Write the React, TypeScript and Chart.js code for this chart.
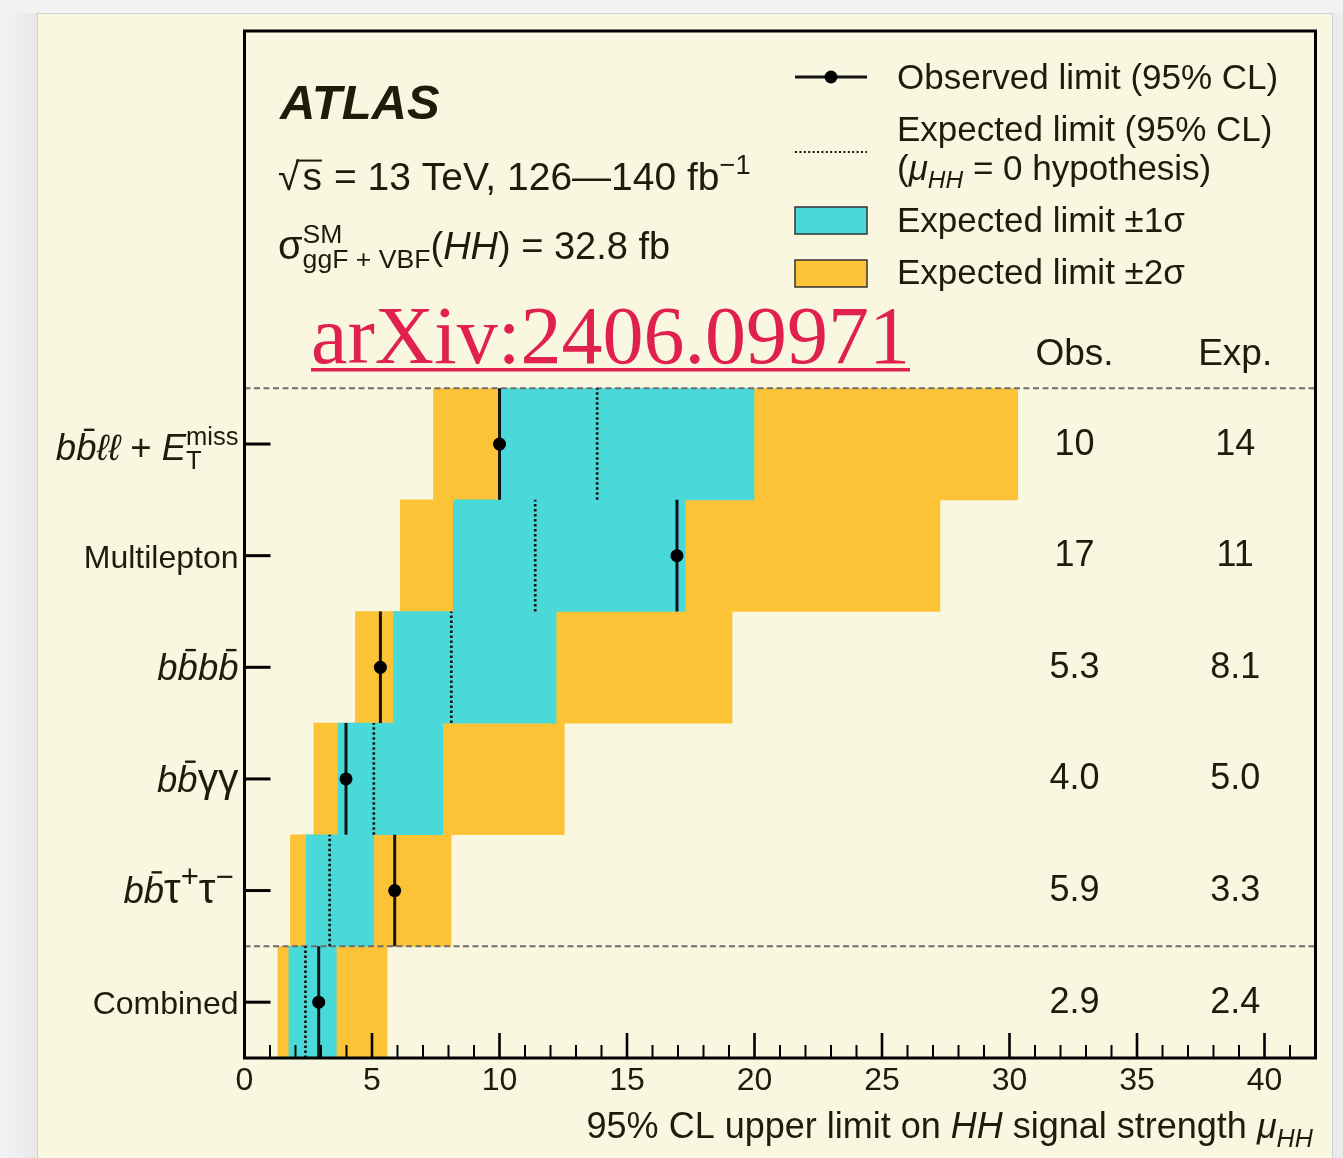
import React, { useEffect, useRef } from 'react';
import { Chart, registerables } from 'chart.js';

Chart.register(...registerables);

// ---------------- data ----------------
const CATEGORIES = ['bbll+MET', 'Multilepton', 'bbbb', 'bbyy', 'bbtautau', 'Combined']; // top to bottom
const ROW_CENTERS = [5.5, 4.5, 3.5, 2.5, 1.5, 0.5];
const OBSERVED = [10.0, 16.96, 5.33, 3.98, 5.89, 2.91];
const EXPECTED = [13.83, 11.4, 8.11, 5.07, 3.34, 2.39];
const SIGMA1_LOW = [10.04, 8.19, 5.84, 3.67, 2.42, 1.74];
const SIGMA1_HIGH = [19.98, 17.28, 12.22, 7.78, 5.07, 3.6];
const SIGMA2_LOW = [7.41, 6.11, 4.35, 2.72, 1.8, 1.31];
const SIGMA2_HIGH = [30.32, 27.27, 19.12, 12.54, 8.1, 5.59];
const OBS_LABELS = ['10', '17', '5.3', '4.0', '5.9', '2.9'];
const EXP_LABELS = ['14', '11', '8.1', '5.0', '3.3', '2.4'];
const SEPARATORS = [6, 1];
const X_MIN = 0;
const X_MAX = 42;
const Y_MIN = 0;
const Y_MAX = 9.2;
const X_LABEL_STEP = 5;
const OBS_COLUMN_X = 32.55;
const EXP_COLUMN_X = 38.85;

// ---------------- styles ----------------
const FONT = '"Liberation Sans", Arial, Helvetica, sans-serif';
const TEXT = '#1d1d0b';
const CYAN = '#4ad9d9';
const GOLD = '#fdc337';
const LINE = '#141414';
const PANEL = '#f9f7e0';

type Run = {
  t?: string;
  it?: boolean;
  bold?: boolean;
  k?: number;
  bar?: boolean;
  sup?: string;
  sub?: string;
  subIt?: boolean;
  ssk?: number;
  gap?: number;
  root?: boolean;
};

function fontStr(size: number, it?: boolean, bold?: boolean) {
  return `${it ? 'italic ' : ''}${bold ? 'bold ' : ''}${size}px ${FONT}`;
}

function runWidth(ctx: CanvasRenderingContext2D, r: Run, base: number) {
  if (r.gap !== undefined) return r.gap;
  if (r.sup !== undefined || r.sub !== undefined) {
    const ss = base * (r.ssk ?? 0.7);
    ctx.font = fontStr(ss, r.it, false);
    const a = r.sup ? ctx.measureText(r.sup).width : 0;
    ctx.font = fontStr(ss, r.subIt, false);
    const b = r.sub ? ctx.measureText(r.sub).width : 0;
    return Math.max(a, b);
  }
  ctx.font = fontStr(base * (r.k ?? 1), r.it, r.bold);
  return ctx.measureText(r.t || '').width;
}

function drawRich(
  ctx: CanvasRenderingContext2D,
  runs: Run[],
  x: number,
  y: number,
  base: number,
  align: 'left' | 'right' | 'center',
) {
  const widths = runs.map((r) => runWidth(ctx, r, base));
  const total = widths.reduce((a, b) => a + b, 0);
  let cx = align === 'right' ? x - total : align === 'center' ? x - total / 2 : x;
  ctx.save();
  ctx.fillStyle = TEXT;
  ctx.strokeStyle = TEXT;
  ctx.textAlign = 'left';
  ctx.textBaseline = 'alphabetic';
  runs.forEach((r, i) => {
    if (r.gap !== undefined) {
      cx += r.gap;
      return;
    }
    if (r.sup !== undefined || r.sub !== undefined) {
      const ss = base * (r.ssk ?? 0.7);
      if (r.sup) {
        ctx.font = fontStr(ss, r.it, false);
        ctx.fillText(r.sup, cx, y - base * 0.42);
      }
      if (r.sub) {
        ctx.font = fontStr(ss, r.subIt, false);
        ctx.fillText(r.sub, cx, y + base * 0.24);
      }
    } else {
      const size = base * (r.k ?? 1);
      ctx.font = fontStr(size, r.it, r.bold);
      ctx.fillText(r.t || '', cx, y);
      const w = widths[i];
      if (r.bar) {
        ctx.fillRect(cx + w * 0.38, y - size * 0.86, w * 0.52, Math.max(2, size * 0.065));
      }
      if (r.root) {
        // overline of the square root spanning the following runs
        let span = 0;
        for (let j = i + 1; j < Math.min(widths.length, i + 3); j++) span += widths[j];
        ctx.fillRect(cx + w * 0.85, y - size * 0.78, span + w * 0.15, Math.max(2, size * 0.05));
      }
    }
    cx += widths[i];
  });
  ctx.restore();
  return total;
}

const ROW_LABELS: { runs: Run[]; size: number; dy: number }[] = [
  {
    runs: [
      { t: 'b', it: true },
      { t: 'b', it: true, bar: true },
      { t: 'ℓℓ', it: true },
      { t: ' + ' },
      { t: 'E', it: true },
      { sup: 'miss', sub: 'T' },
    ],
    size: 36.5,
    dy: 16,
  },
  { runs: [{ t: 'Multilepton' }], size: 32, dy: 12 },
  {
    runs: [
      { t: 'b', it: true },
      { t: 'b', it: true, bar: true },
      { t: 'b', it: true },
      { t: 'b', it: true, bar: true },
    ],
    size: 36.5,
    dy: 13,
  },
  {
    runs: [{ t: 'b', it: true }, { t: 'b', it: true, bar: true }, { t: 'γγ', k: 1.12 }],
    size: 36.5,
    dy: 13,
  },
  {
    runs: [
      { t: 'b', it: true },
      { t: 'b', it: true, bar: true },
      { t: 'τ', k: 1.15 },
      { sup: '+', ssk: 0.85 },
      { t: 'τ', k: 1.15 },
      { sup: '−', ssk: 0.85 },
      { gap: 5 },
    ],
    size: 36.5,
    dy: 12,
  },
  { runs: [{ t: 'Combined' }], size: 32, dy: 12 },
];

const decorPlugin = {
  id: 'decor',
  beforeDraw(chart: any) {
    const ctx: CanvasRenderingContext2D = chart.ctx;
    const W = chart.width;
    const H = chart.height;
    ctx.save();
    ctx.fillStyle = '#f2f2f2';
    ctx.fillRect(0, 0, W, H);
    const g = ctx.createLinearGradient(0, 0, 37, 0);
    g.addColorStop(0, '#f4f4f4');
    g.addColorStop(1, '#e8e8e8');
    ctx.fillStyle = g;
    ctx.fillRect(0, 13, 37, H);
    ctx.fillStyle = '#ebebeb';
    ctx.fillRect(1333, 13, W - 1333, H);
    ctx.fillStyle = PANEL;
    ctx.fillRect(37, 13, 1296, H);
    ctx.strokeStyle = '#cfcfcf';
    ctx.lineWidth = 1;
    ctx.strokeRect(37.5, 13.5, 1295, H + 5);
    ctx.restore();
  },
  afterDraw(chart: any) {
    const ctx: CanvasRenderingContext2D = chart.ctx;
    const { left, right, top, bottom } = chart.chartArea;
    const xs = chart.scales.x;
    const ys = chart.scales.y;
    ctx.save();

    // frame
    ctx.strokeStyle = '#000';
    ctx.lineWidth = 3;
    ctx.strokeRect(left, top, right - left, bottom - top);

    // x ticks, inward
    xs.ticks.forEach((t: any) => {
      const px = xs.getPixelForValue(t.value);
      const major = t.value % X_LABEL_STEP === 0;
      ctx.lineWidth = major ? 2.6 : 2;
      ctx.beginPath();
      ctx.moveTo(px, bottom);
      ctx.lineTo(px, bottom - (major ? 25 : 13));
      ctx.stroke();
    });
    // y ticks, inward
    ys.ticks.forEach((t: any) => {
      const py = ys.getPixelForValue(t.value);
      ctx.lineWidth = 3;
      ctx.beginPath();
      ctx.moveTo(left, py);
      ctx.lineTo(left + 26, py);
      ctx.stroke();
    });

    // row labels + Obs./Exp. columns
    const obsX = xs.getPixelForValue(OBS_COLUMN_X);
    const expX = xs.getPixelForValue(EXP_COLUMN_X);
    ROW_CENTERS.forEach((v, i) => {
      const py = ys.getPixelForValue(v);
      const lab = ROW_LABELS[i];
      drawRich(ctx, lab.runs, left - 6, py + lab.dy, lab.size, 'right');
      drawRich(ctx, [{ t: OBS_LABELS[i] }], obsX, py + 10.5, 36, 'center');
      drawRich(ctx, [{ t: EXP_LABELS[i] }], expX, py + 10.5, 36, 'center');
    });
    drawRich(ctx, [{ t: 'Obs.' }], obsX, 365, 37, 'center');
    drawRich(ctx, [{ t: 'Exp.' }], expX, 365, 37, 'center');

    // axis title
    drawRich(
      ctx,
      [
        { t: '95% CL upper limit on ' },
        { t: 'HH', it: true },
        { t: ' signal strength ' },
        { t: 'μ', it: true },
        { sub: 'HH', subIt: true },
      ],
      1313,
      1138,
      36,
      'right',
    );

    // ATLAS label block
    drawRich(ctx, [{ t: 'ATLAS', it: true, bold: true }], 280, 119, 49, 'left');
    drawRich(
      ctx,
      [
        { t: '√', root: true },
        { gap: 3 },
        { t: 's' },
        { gap: 12 },
        { t: '= 13 TeV, 126—140 fb' },
        { sup: '−1' },
      ],
      278,
      190,
      39,
      'left',
    );
    drawRich(
      ctx,
      [
        { t: 'σ', k: 1.05 },
        { sup: 'SM', sub: 'ggF + VBF' },
        { t: '(' },
        { t: 'HH', it: true },
        { t: ') = 32.8 fb' },
      ],
      278,
      259,
      38,
      'left',
    );

    // legend
    const lx0 = 795;
    const lx1 = 867;
    ctx.strokeStyle = LINE;
    ctx.lineWidth = 3;
    ctx.beginPath();
    ctx.moveTo(lx0, 77);
    ctx.lineTo(lx1, 77);
    ctx.stroke();
    ctx.fillStyle = '#000';
    ctx.beginPath();
    ctx.arc((lx0 + lx1) / 2, 77, 6.5, 0, Math.PI * 2);
    ctx.fill();
    ctx.setLineDash([2, 2.4]);
    ctx.lineWidth = 2;
    ctx.beginPath();
    ctx.moveTo(lx0, 152);
    ctx.lineTo(lx1, 152);
    ctx.stroke();
    ctx.setLineDash([]);
    ctx.lineWidth = 1.5;
    ctx.strokeStyle = '#333';
    ctx.fillStyle = CYAN;
    ctx.fillRect(lx0, 207, lx1 - lx0, 27);
    ctx.strokeRect(lx0, 207, lx1 - lx0, 27);
    ctx.fillStyle = GOLD;
    ctx.fillRect(lx0, 260, lx1 - lx0, 27);
    ctx.strokeRect(lx0, 260, lx1 - lx0, 27);
    const tx = 897;
    drawRich(ctx, [{ t: 'Observed limit (95% CL)' }], tx, 89, 35, 'left');
    drawRich(ctx, [{ t: 'Expected limit (95% CL)' }], tx, 141, 35, 'left');
    drawRich(
      ctx,
      [{ t: '(' }, { t: 'μ', it: true }, { sub: 'HH', subIt: true }, { t: ' = 0 hypothesis)' }],
      tx,
      180,
      35,
      'left',
    );
    drawRich(ctx, [{ t: 'Expected limit ±1σ' }], tx, 232, 35, 'left');
    drawRich(ctx, [{ t: 'Expected limit ±2σ' }], tx, 284, 35, 'left');

    // arXiv link text
    ctx.fillStyle = '#e0214b';
    ctx.font = '82px "Liberation Serif", "Times New Roman", serif';
    ctx.textAlign = 'left';
    ctx.textBaseline = 'alphabetic';
    const wm = 'arXiv:2406.09971';
    ctx.fillText(wm, 311, 363);
    const ww = ctx.measureText(wm).width;
    ctx.fillRect(311, 368, ww, 3.5);

    ctx.restore();
  },
};

export default function App() {
  const canvasRef = useRef<HTMLCanvasElement | null>(null);

  useEffect(() => {
    const canvas = canvasRef.current;
    if (!canvas) return;

    const obsLines = ROW_CENTERS.map((y, i) => ({
      type: 'line' as const,
      label: `obs-${CATEGORIES[i]}`,
      data: [
        { x: OBSERVED[i], y: y - 0.5 },
        { x: OBSERVED[i], y: y + 0.5 },
      ],
      borderColor: LINE,
      borderWidth: 3,
      pointRadius: 0,
      fill: false,
      order: 1,
    }));
    const expLines = ROW_CENTERS.map((y, i) => ({
      type: 'line' as const,
      label: `exp-${CATEGORIES[i]}`,
      data: [
        { x: EXPECTED[i], y: y - 0.5 },
        { x: EXPECTED[i], y: y + 0.5 },
      ],
      borderColor: LINE,
      borderWidth: 2.7,
      borderDash: [2.6, 2.4],
      pointRadius: 0,
      fill: false,
      order: 2,
    }));
    const sepLines = SEPARATORS.map((y) => ({
      type: 'line' as const,
      label: `sep-${y}`,
      data: [
        { x: X_MIN, y },
        { x: X_MAX, y },
      ],
      borderColor: '#6e6e6e',
      borderWidth: 2,
      borderDash: [6, 3.5],
      pointRadius: 0,
      fill: false,
      order: 3,
    }));

    const chart = new Chart(canvas, {
      type: 'bar',
      data: {
        datasets: [
          {
            type: 'scatter',
            label: 'Observed limit (95% CL)',
            data: ROW_CENTERS.map((y, i) => ({ x: OBSERVED[i], y })),
            pointRadius: 6.5,
            pointBackgroundColor: '#000',
            pointBorderWidth: 0,
            showLine: false,
            order: 0,
          } as any,
          ...obsLines,
          ...expLines,
          ...sepLines,
          {
            type: 'bar',
            label: 'Expected limit ±1σ',
            indexAxis: 'y',
            data: ROW_CENTERS.map((y, i) => ({ y, x: [SIGMA1_LOW[i], SIGMA1_HIGH[i]] })),
            backgroundColor: CYAN,
            borderWidth: 0,
            grouped: false,
            barPercentage: 1,
            categoryPercentage: 1,
            order: 4,
          } as any,
          {
            type: 'bar',
            label: 'Expected limit ±2σ',
            indexAxis: 'y',
            data: ROW_CENTERS.map((y, i) => ({ y, x: [SIGMA2_LOW[i], SIGMA2_HIGH[i]] })),
            backgroundColor: GOLD,
            borderWidth: 0,
            grouped: false,
            barPercentage: 1,
            categoryPercentage: 1,
            order: 5,
          } as any,
        ],
      },
      options: {
        responsive: false,
        animation: false,
        devicePixelRatio: 1,
        events: [],
        layout: { padding: { left: 0, top: 31, right: 27.5, bottom: 0 } },
        plugins: {
          legend: { display: false },
          tooltip: { enabled: false },
        },
        scales: {
          x: {
            type: 'linear',
            offset: false,
            min: X_MIN,
            max: X_MAX,
            grid: { display: false, drawTicks: false, offset: false },
            border: { display: false },
            ticks: {
              stepSize: 1,
              autoSkip: false,
              maxRotation: 0,
              padding: 4,
              color: TEXT,
              font: { family: FONT, size: 32 },
              callback: (v: any) => (Number(v) % X_LABEL_STEP === 0 ? String(v) : ''),
            },
            afterFit: (s: any) => {
              s.height = 100;
            },
          },
          y: {
            type: 'linear',
            offset: false,
            min: Y_MIN,
            max: Y_MAX,
            grid: { display: false, drawTicks: false, offset: false },
            border: { display: false },
            ticks: { display: false },
            afterBuildTicks: (s: any) => {
              s.ticks = ROW_CENTERS.map((v) => ({ value: v }));
            },
            afterFit: (s: any) => {
              s.width = 244.5;
            },
          },
        },
      } as any,
      plugins: [decorPlugin],
    });

    return () => chart.destroy();
  }, []);

  return (
    <div style={{ position: 'absolute', left: 0, top: 0, width: 1343, height: 1158 }}>
      <canvas ref={canvasRef} width={1343} height={1158} style={{ display: 'block' }} />
    </div>
  );
}
